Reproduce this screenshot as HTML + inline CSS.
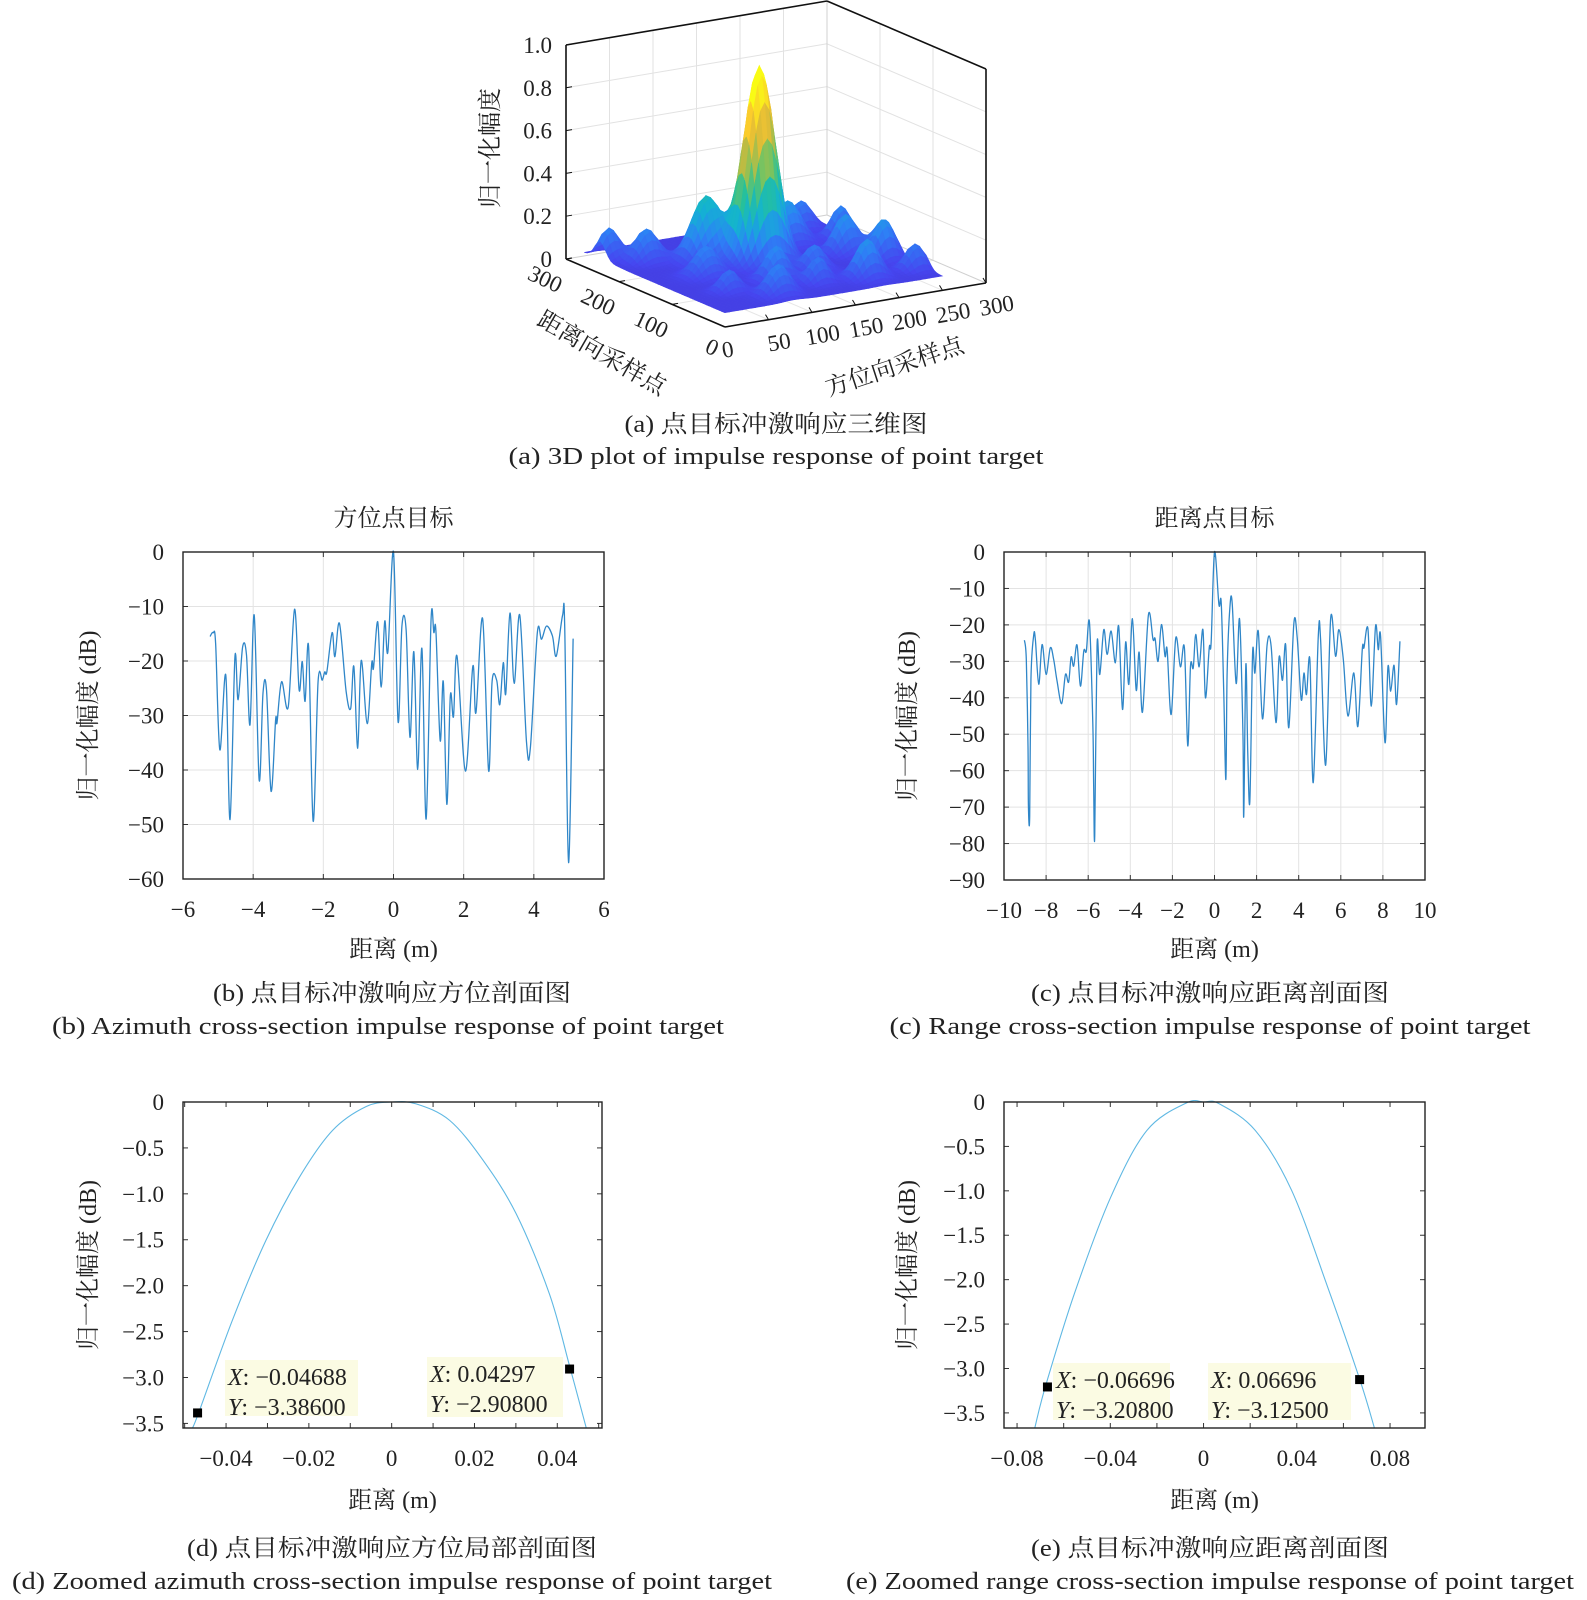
<!DOCTYPE html>
<html><head><meta charset="utf-8">
<style>
html,body{margin:0;padding:0;background:#fff;}
svg{display:block;font-family:"Liberation Serif","Noto Serif CJK SC",serif;}
</style></head>
<body>
<svg id="fig" width="1587" height="1600" viewBox="0 0 1587 1600" xmlns="http://www.w3.org/2000/svg"></svg>
<script>
// ---------- DATA ----------
const azX=[-5.23,-5.14,-5.07,-4.95,-4.78,-4.66,-4.52,-4.43,-4.30,-4.19,-4.09,-3.97,-3.83,-3.72,-3.62,-3.49,-3.36,-3.32,-3.19,-3.00,-2.82,-2.69,-2.60,-2.52,-2.42,-2.29,-2.15,-2.03,-1.96,-1.90,-1.75,-1.67,-1.54,-1.35,-1.22,-1.13,-1.02,-0.92,-0.75,-0.62,-0.57,-0.45,-0.35,-0.25,-0.16,0,0.13,0.24,0.36,0.47,0.58,0.69,0.81,0.93,1.07,1.15,1.21,1.33,1.42,1.52,1.62,1.71,1.81,2.05,2.26,2.35,2.54,2.71,2.81,2.94,3.03,3.13,3.20,3.32,3.44,3.60,3.79,3.90,4.10,4.22,4.36,4.53,4.64,4.82,4.88,4.99,5.12];
const azY=[-15.5,-14.8,-16.8,-36.3,-22.6,-49.1,-19.3,-27.1,-17.4,-18.9,-31.7,-11.6,-41.8,-25.9,-25.3,-43.9,-30.8,-31.3,-23.8,-28.4,-10.5,-25.3,-20.1,-27.4,-17.4,-49.4,-23.8,-23.5,-22.0,-22.0,-14.8,-19.2,-13.1,-25.6,-28.7,-21.0,-36.0,-19.9,-31.5,-20.4,-21.3,-12.8,-24.8,-12.7,-18.3,0,-31.1,-13.6,-14.3,-34.0,-18.3,-39.9,-17.7,-49.0,-12.5,-14.8,-14.6,-34.6,-23.8,-46.3,-26.4,-30.2,-19.1,-40.2,-21.0,-29.5,-12.2,-40.1,-23.8,-23.5,-28.0,-20.3,-26.0,-11.2,-24.1,-11.6,-34.8,-36.0,-14.8,-16.0,-13.6,-15.4,-19.1,-11.6,-13.7,-57.0,-15.9];
const rgX=[-9.03,-8.94,-8.86,-8.84,-8.78,-8.72,-8.59,-8.51,-8.35,-8.19,-8.00,-7.80,-7.64,-7.48,-7.26,-7.08,-6.93,-6.81,-6.69,-6.53,-6.37,-6.21,-6.09,-5.94,-5.78,-5.74,-5.69,-5.58,-5.45,-5.26,-5.10,-4.91,-4.71,-4.55,-4.37,-4.22,-4.07,-3.90,-3.72,-3.58,-3.42,-3.14,-2.92,-2.82,-2.68,-2.52,-2.35,-2.25,-2.06,-1.84,-1.62,-1.43,-1.27,-1.14,-1.01,-0.89,-0.73,-0.55,-0.43,-0.25,-0.16,0,0.21,0.32,0.44,0.54,0.60,0.73,0.84,1.03,1.19,1.35,1.39,1.49,1.58,1.68,1.81,1.92,2.08,2.28,2.50,2.69,2.92,3.07,3.23,3.38,3.53,3.77,3.93,4.12,4.25,4.37,4.53,4.69,4.93,5.04,5.28,5.52,5.75,5.91,6.12,6.34,6.62,6.81,7.02,7.10,7.29,7.45,7.65,7.78,7.89,8.10,8.24,8.37,8.53,8.65,8.81];
const rgY=[-24.2,-29.5,-53.2,-69.7,-72.6,-35.0,-22.9,-24.0,-36.3,-25.4,-33.6,-26.3,-29.5,-35.4,-41.6,-33.6,-35.7,-28.8,-31.3,-25.5,-36.8,-27.2,-27.2,-19.3,-47.3,-64.2,-77.9,-25.8,-33.6,-21.3,-28.1,-21.7,-30.4,-20.4,-43.2,-24.7,-36.3,-18.3,-37.9,-27.5,-43.9,-17.3,-24.0,-23.8,-30.0,-19.9,-28.6,-26.8,-44.6,-23.6,-31.5,-26.3,-53.2,-31.3,-31.8,-22.6,-31.5,-21.3,-40.0,-26.3,-24.9,0,-14.4,-14.0,-38.6,-62.4,-33.2,-15.3,-14.0,-36.1,-18.4,-49.6,-72.4,-30.9,-55.1,-68.3,-27.7,-33.2,-21.7,-45.8,-25.4,-25.8,-46.8,-28.8,-35.2,-25.4,-48.2,-19.6,-23.6,-40.5,-33.2,-39.1,-29.5,-63.3,-23.1,-24.0,-58.5,-18.1,-28.6,-21.3,-29.5,-45.0,-33.2,-47.9,-26.8,-26.3,-21.1,-42.3,-20.4,-26.8,-23.1,-52.3,-31.5,-38.2,-31.1,-41.8,-24.5];
const zAzX=[-0.0481,-0.0465,-0.0385,-0.0304,-0.0223,-0.0143,-0.0062,0,0.0059,0.0140,0.0220,0.0301,0.0381,0.0430,0.0470];
const zAzY=[-3.55,-3.37,-2.38,-1.51,-0.82,-0.31,-0.05,0,-0.02,-0.20,-0.63,-1.22,-2.09,-2.88,-3.55];
const zAzTipX=[-0.04688,0.04297];
const zAzTipY=[-3.386,-2.908];
const zRgX=[-0.0724,-0.0678,-0.0553,-0.0398,-0.0243,-0.0073,0,0.0067,0.0222,0.0377,0.0532,0.0671,0.0733];
const zRgY=[-3.67,-3.20,-2.15,-1.07,-0.32,-0.01,0,-0.02,-0.32,-0.99,-2.08,-3.13,-3.67];
const zRgTipX=[-0.06696,0.06696];
const zRgTipY=[-3.208,-3.125];
const bXTicks=[-6,-4,-2,0,2,4,6];
const bYTicks=[0,-10,-20,-30,-40,-50,-60];
const cXTicks=[-10,-8,-6,-4,-2,0,2,4,6,8,10];
const cYTicks=[0,-10,-20,-30,-40,-50,-60,-70,-80,-90];
const dXTicks=[-0.04,-0.02,0,0.02,0.04];
const dXLabels=["−0.04","−0.02","0","0.02","0.04"];
const zoomYTicks=[0,-0.5,-1,-1.5,-2,-2.5,-3,-3.5];
const zoomYLabels=["0","−0.5","−1.0","−1.5","−2.0","−2.5","−3.0","−3.5"];
const eXTicks=[-0.08,-0.04,0,0.04,0.08];
const eXLabels=["−0.08","−0.04","0","0.04","0.08"];
const peakA=140, peakR=165, peakH=0.92;
const bumpA=[100,200,230,250,170,120,70,50,25,255,200,95,150,150,240,255,60,260];
const bumpR=[200,210,150,110,110,100,150,230,260,60,60,55,240,70,250,200,90,130];
const bumpH=[0.30,0.20,0.18,0.17,0.12,0.16,0.14,0.15,0.14,0.12,0.18,0.14,0.16,0.12,0.13,0.15,0.10,0.12];
const bumpW=[15,14,12,11,11,12,13,12,10,10,12,12,12,10,11,10,10,10];
const zTicks=[0,0.2,0.4,0.6,0.8,1.0];
const zLabels=["0","0.2","0.4","0.6","0.8","1.0"];
const rTicks=[0,100,200,300];
const aTicks=[50,100,150,200,250,300];

// ---------- HELPERS ----------
const NS="http://www.w3.org/2000/svg";
const svg=document.getElementById('fig');
function mk(tag,attrs,parent){const e=document.createElementNS(NS,tag);for(const k in attrs)e.setAttribute(k,attrs[k]);(parent||svg).appendChild(e);return e;}
function fmt(v){return v<0?"−"+Math.abs(v):String(v);}
function txt(str,x,y,anchor,size,parent){const t=mk('text',{x:x,y:y,'text-anchor':anchor||'middle','font-size':size||22,fill:'#222'},parent);t.textContent=str;return t;}
function smoothPath(pts){
  let d='M'+pts[0][0].toFixed(2)+' '+pts[0][1].toFixed(2);
  for(let i=0;i<pts.length-1;i++){
    const p0=pts[Math.max(0,i-1)],p1=pts[i],p2=pts[i+1],p3=pts[Math.min(pts.length-1,i+2)];
    const c1=[p1[0]+(p2[0]-p0[0])/6,p1[1]+(p2[1]-p0[1])/6],c2=[p2[0]-(p3[0]-p1[0])/6,p2[1]-(p3[1]-p1[1])/6];
    d+='C'+c1[0].toFixed(2)+' '+c1[1].toFixed(2)+' '+c2[0].toFixed(2)+' '+c2[1].toFixed(2)+' '+p2[0].toFixed(2)+' '+p2[1].toFixed(2);
  }
  return d;
}

function plot2d(cfg){
  const g=mk('g',{});
  
  
  const B=cfg.box;
  const sx=v=>B.l+(v-cfg.xmin)/(cfg.xmax-cfg.xmin)*(B.r-B.l);
  const sy=v=>B.t+(cfg.ymax-v)/(cfg.ymax-cfg.ymin)*(B.b-B.t);
  if(cfg.grid){
    cfg.xTicks.forEach(v=>{if(v>cfg.xmin&&v<cfg.xmax){const l=mk('line',{x1:sx(v),x2:sx(v),y1:B.t,y2:B.b,stroke:'#e3e3e3','stroke-width':1},g);
      
      }});
    cfg.yTicks.forEach(v=>{if(v>cfg.ymin&&v<cfg.ymax){const l=mk('line',{x1:B.l,x2:B.r,y1:sy(v),y2:sy(v),stroke:'#e3e3e3','stroke-width':1},g);
      
      }});
  }
  (cfg.xMinor||cfg.xTicks).forEach(v=>{const X=sx(v);
    const t1=mk('line',{x1:X,x2:X,y1:B.b,y2:B.b-5,stroke:'#333','stroke-width':1},g);
    
    
    const t2=mk('line',{x1:X,x2:X,y1:B.t,y2:B.t+5,stroke:'#333','stroke-width':1},g);
    
    });
  cfg.yTicks.forEach(v=>{const Y=sy(v);
    const t1=mk('line',{x1:B.l,x2:B.l+5,y1:Y,y2:Y,stroke:'#333','stroke-width':1},g);
    
    
    const t2=mk('line',{x1:B.r,x2:B.r-5,y1:Y,y2:Y,stroke:'#333','stroke-width':1},g);
    
    });
  cfg.xTicks.forEach((v,i)=>{const t=txt(cfg.xLabels?cfg.xLabels[i]:fmt(v),sx(v),B.b+38,'middle',23,g);
    
    });
  cfg.yTicks.forEach((v,i)=>{const t=txt(cfg.yLabels?cfg.yLabels[i]:fmt(v),cfg.yLabelX,sy(v)+8,'end',23,g);
    
    });
  const pts=cfg.xs.map((x,i)=>[sx(x),sy(cfg.ys[i])]);
  const d=smoothPath(pts);
  const clip='clip-'+cfg.name;
  const cp=mk('clipPath',{id:clip},g);mk('rect',{x:B.l,y:B.t-2,width:B.r-B.l,height:B.b-B.t+2},cp);
  const p=mk('path',{d:d,fill:'none',stroke:cfg.color,'stroke-width':cfg.lw||1.3,'stroke-linejoin':'round','clip-path':'url(#'+clip+')'},g);
  
  
  const bx=mk('rect',{x:B.l,y:B.t,width:B.r-B.l,height:B.b-B.t,fill:'none',stroke:'#222','stroke-width':1.4},g);
  
  
  if(cfg.tipX){cfg.tipX.forEach((tx,i)=>{
    const bbox=cfg.tipBoxes[i];
    const r=mk('rect',{x:bbox[0],y:bbox[1],width:bbox[2],height:bbox[3],fill:'#fbfbe3'},g);
    
    
    const m=mk('rect',{x:sx(tx)-4.5,y:sy(cfg.tipY[i])-4.5,width:9,height:9,fill:'#000'},g);
    
    
    const t1=mk('text',{x:bbox[0]+3,y:bbox[1]+25,'font-size':24,fill:'#222'},g);
    t1.innerHTML='<tspan font-style="italic">X</tspan>: '+fmt(tx);
    
    
    const t2=mk('text',{x:bbox[0]+3,y:bbox[1]+55,'font-size':24,fill:'#222'},g);
    t2.innerHTML='<tspan font-style="italic">Y</tspan>: −'+Math.abs(cfg.tipY[i]).toFixed(5);
    
    
  });}
  const xl=txt('距离 (m)',(B.l+B.r)/2,cfg.xLabelY,'middle',24,g);
  
  
  const yl=txt('归一化幅度 (dB)',0,0,'middle',24,g);
  yl.setAttribute('transform','translate('+cfg.yTitleX+','+((B.t+B.b)/2)+') rotate(-90)');
  
  
  if(cfg.title){const tt=txt(cfg.title,(B.l+B.r)/2,B.t-26,'middle',24,g);
    
    }
  cfg.captions.forEach((c,i)=>{const t=txt(c[0],c[1],c[2],'middle',24,g);
    t.setAttribute('textLength',c[3]);
    t.setAttribute('lengthAdjust','spacingAndGlyphs');
    
    });
}
function range(a,b,s){const o=[];for(let v=a;v<=b+1e-9;v+=s)o.push(+v.toFixed(4));return o;}

plot2d({name:'azimuth-profile',box:{l:183,r:604,t:552,b:879},xmin:-6,xmax:6,ymin:-60,ymax:0,xTicks:bXTicks,yTicks:bYTicks,grid:true,
  xs:azX,ys:azY,color:'#2f86c8',yLabelX:164,xLabelY:957,yTitleX:96,title:'方位点目标',
  captions:[['(b) 点目标冲激响应方位剖面图',392,1001,358],['(b) Azimuth cross-section impulse response of point target',388,1034,672]]});
plot2d({name:'range-profile',box:{l:1004,r:1425,t:552,b:880},xmin:-10,xmax:10,ymin:-90,ymax:0,xTicks:cXTicks,yTicks:cYTicks,grid:true,
  xs:rgX,ys:rgY,color:'#2f86c8',yLabelX:985,xLabelY:957,yTitleX:915,title:'距离点目标',
  captions:[['(c) 点目标冲激响应距离剖面图',1210,1001,358],['(c) Range cross-section impulse response of point target',1210,1034,641]]});
plot2d({name:'zoomed-azimuth-profile',box:{l:183,r:602,t:1102,b:1428},xmin:-0.0504,xmax:0.0508,ymin:-3.55,ymax:0,xTicks:dXTicks,xLabels:dXLabels,xMinor:range(-0.05,0.05,0.01),
  yTicks:zoomYTicks,yLabels:zoomYLabels,grid:false,xs:zAzX,ys:zAzY,color:'#5fb8e3',lw:1.1,yLabelX:164,xLabelY:1508,yTitleX:96,
  tipX:zAzTipX,tipY:zAzTipY,tipBoxes:[[225,1360,133,56],[427,1357,136,60]],
  captions:[['(d) 点目标冲激响应方位局部剖面图',392,1556,410],['(d) Zoomed azimuth cross-section impulse response of point target',392,1589,760]]});
plot2d({name:'zoomed-range-profile',box:{l:1004,r:1425,t:1102,b:1428},xmin:-0.0856,xmax:0.095,ymin:-3.67,ymax:0,xTicks:eXTicks,xLabels:eXLabels,xMinor:range(-0.08,0.08,0.02),
  yTicks:zoomYTicks,yLabels:zoomYLabels,grid:false,xs:zRgX,ys:zRgY,color:'#5fb8e3',lw:1.1,yLabelX:985,xLabelY:1508,yTitleX:915,
  tipX:zRgTipX,tipY:zRgTipY,tipBoxes:[[1053,1363,117,57],[1208,1363,143,57]],
  captions:[['(e) 点目标冲激响应距离剖面图',1210,1556,358],['(e) Zoomed range cross-section impulse response of point target',1210,1589,728]]});

// ---------- 3D ----------
(function(){
  const g=mk('g',{});
  
  
  const P=(a,r,z)=>[725+a*0.87-r*0.53,327-a*0.1467-r*0.2267-z*214];
  const line=(p,q,col,w,name)=>{const l=mk('line',{x1:p[0],y1:p[1],x2:q[0],y2:q[1],stroke:col,'stroke-width':w},g);
    
    return l;};
  [0.2,0.4,0.6,0.8].forEach(z=>{line(P(0,300,z),P(300,300,z),'#e2e2e2',1,'z-grid-line');line(P(300,300,z),P(300,0,z),'#e2e2e2',1,'z-grid-line');});
  aTicks.forEach(a=>{if(a<300){line(P(a,300,0),P(a,300,1),'#e2e2e2',1,'a-grid-line');line(P(a,0,0),P(a,300,0),'#e6e6e6',1,'a-floor-grid');}});
  [100,200].forEach(r=>{line(P(300,r,0),P(300,r,1),'#e2e2e2',1,'r-grid-line');line(P(0,r,0),P(300,r,0),'#e6e6e6',1,'r-floor-grid');});
  line(P(0,300,0),P(300,300,0),'#d0d0d0',1,'back-edge');line(P(300,300,0),P(300,0,0),'#d0d0d0',1,'back-edge');
  line(P(300,300,0),P(300,300,1),'#d0d0d0',1,'back-edge');
  function Z(a,r){let z=0.03+peakH*Math.exp(-((a-peakA)**2+(r-peakR)**2)/(2*16*16));
    for(let i=0;i<bumpA.length;i++)z+=bumpH[i]*Math.exp(-((a-bumpA[i])**2+(r-bumpR[i])**2)/(2*bumpW[i]*bumpW[i]));return Math.min(z,1);}
  const stops=[[0,[62,38,168]],[0.12,[70,70,240]],[0.25,[45,130,245]],[0.38,[19,179,210]],[0.5,[38,192,155]],[0.62,[124,195,94]],[0.75,[210,185,58]],[0.87,[251,198,47]],[1,[249,251,21]]];
  function col(t){t=Math.max(0,Math.min(1,t));for(let i=1;i<stops.length;i++){if(t<=stops[i][0]){const a=stops[i-1],b=stops[i];const f=(t-a[0])/(b[0]-a[0]);
    return 'rgb('+a[1].map((c,k)=>Math.round(c+(b[1][k]-c)*f)).join(',')+')';}}return 'rgb(249,251,21)';}
  const st=5,quads=[];
  for(let a=15;a<265;a+=st)for(let r=25;r<290;r+=st){
    const zs=[Z(a,r),Z(a+st,r),Z(a+st,r+st),Z(a,r+st)];
    quads.push({a:a,r:r,zs:zs,d:(a+st/2)*0.1467+(r+st/2)*0.2267});}
  quads.sort((p,q)=>q.d-p.d);
  const sg=mk('g',{},g);
  
  
  quads.forEach(q=>{const pts=[P(q.a,q.r,q.zs[0]),P(q.a+st,q.r,q.zs[1]),P(q.a+st,q.r+st,q.zs[2]),P(q.a,q.r+st,q.zs[3])];
    const zm=(q.zs[0]+q.zs[1]+q.zs[2]+q.zs[3])/4;
    const shade=(q.zs[1]+q.zs[2]-q.zs[0]-q.zs[3]);
    const c=col(zm/peakH*0.98+0.07+shade*0.25);
    const pg=mk('polygon',{points:pts.map(p=>p[0].toFixed(1)+','+p[1].toFixed(1)).join(' '),fill:c,stroke:c,'stroke-width':0.6},sg);
    
    });
  line(P(0,300,0),P(0,300,1),'#111',1.6,'z-axis-line');
  line(P(0,300,1),P(300,300,1),'#111',1.6,'box-edge');
  line(P(300,300,1),P(300,0,1),'#111',1.6,'box-edge');
  line(P(300,0,0),P(300,0,1),'#111',1.6,'box-edge');
  line(P(0,300,0),P(0,0,0),'#111',1.6,'range-axis-line');
  line(P(0,0,0),P(300,0,0),'#111',1.6,'azimuth-axis-line');
  zTicks.forEach((z,i)=>{const p=P(0,300,z);line(p,[p[0]+6,p[1]-1],'#111',1,'z-tick');
    const t=txt(zLabels[i],p[0]-14,p[1]+8,'end',23,g);
    
    });
  rTicks.forEach(r=>{const p=P(0,r,0);line(p,[p[0]+6,p[1]-1],'#111',1,'range-tick');
    const t=txt(String(r),0,0,'middle',23,g);
    t.setAttribute('transform','translate('+(p[0]-(r?24:16))+','+(p[1]+27)+') rotate(25)');
    
    });
  aTicks.forEach(a=>{const p=P(a,0,0);line(p,[p[0]-3,p[1]-5],'#111',1,'azimuth-tick');
    const t=txt(String(a),0,0,'middle',23,g);
    t.setAttribute('transform','translate('+(p[0]+12)+','+(p[1]+30)+') rotate(-10)');
    
    });
  const t0=txt('0',0,0,'middle',23,g);
  t0.setAttribute('transform','translate(729,357) rotate(-10)');
  
  
  const zl=txt('归一化幅度',0,0,'middle',24,g);
  zl.setAttribute('transform','translate(498,148) rotate(-90)');
  
  
  const rl=txt('距离向采样点',0,0,'middle',24,g);
  rl.setAttribute('transform','translate(598,360) rotate(30)');
  
  
  const al=txt('方位向采样点',0,0,'middle',24,g);
  al.setAttribute('transform','translate(897,374) rotate(-18)');
  
  
  const c1=txt('(a) 点目标冲激响应三维图',776,432,'middle',24,g);
  c1.setAttribute('textLength',303);
  c1.setAttribute('lengthAdjust','spacingAndGlyphs');
  
  
  const c2=txt('(a) 3D plot of impulse response of point target',776,464,'middle',24,g);
  c2.setAttribute('textLength',535);
  c2.setAttribute('lengthAdjust','spacingAndGlyphs');
  
  
})();
</script>
</body></html>
